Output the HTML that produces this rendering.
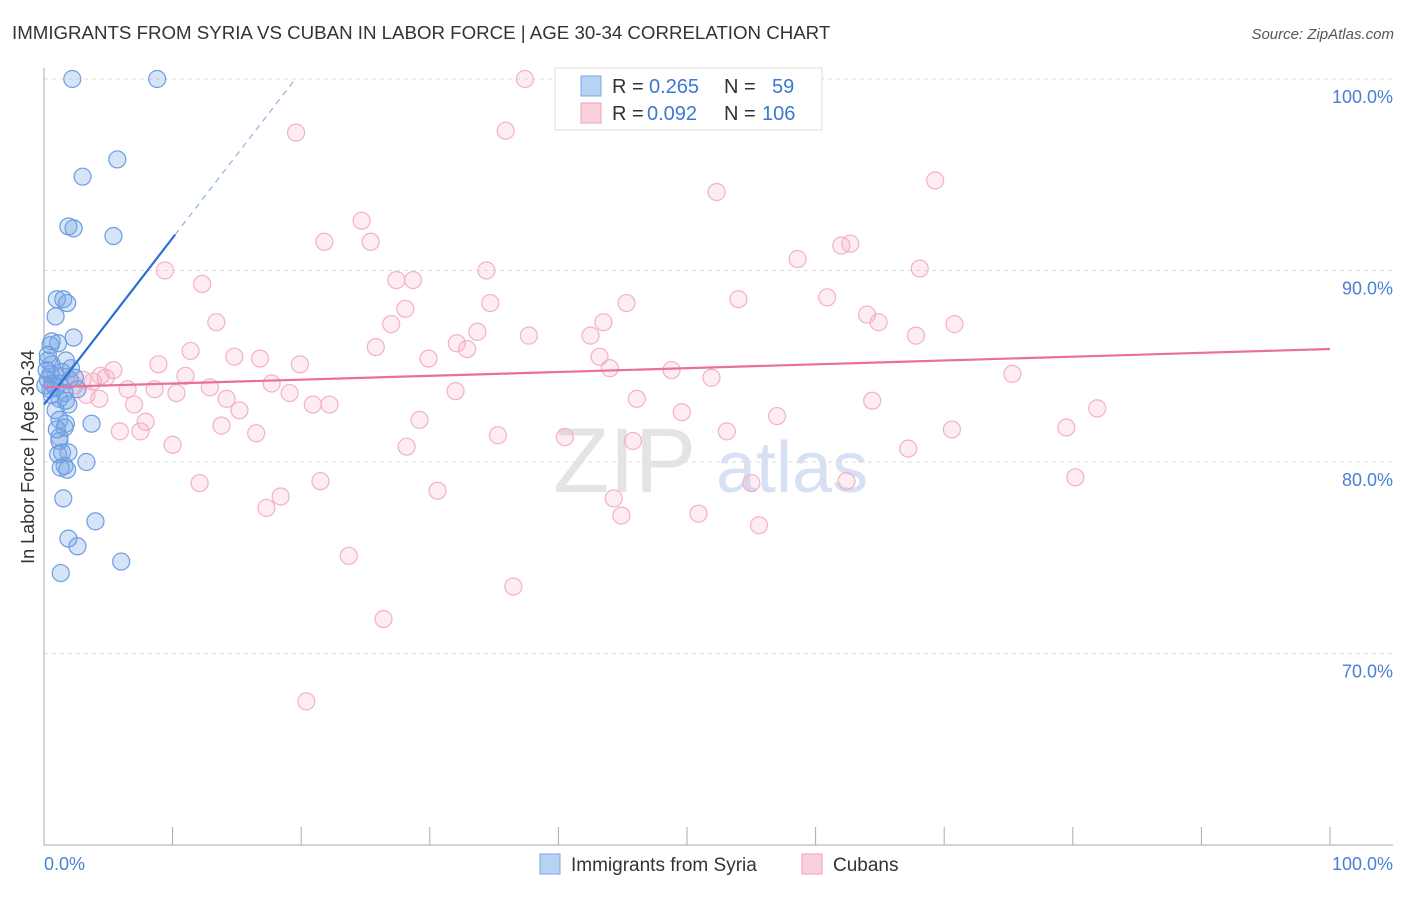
<!DOCTYPE html>
<html><head><meta charset="utf-8"><style>
body{margin:0;background:#fff;font-family:"Liberation Sans",sans-serif;}
svg text{font-family:"Liberation Sans",sans-serif;}
</style></head><body>
<svg id="chart" width="1406" height="892">
<text x="12" y="39" font-size="18.7" fill="#333">IMMIGRANTS FROM SYRIA VS CUBAN IN LABOR FORCE | AGE 30-34 CORRELATION CHART</text>
<text x="1394" y="39" font-size="15" fill="#555" font-style="italic" text-anchor="end">Source: ZipAtlas.com</text>
<text transform="translate(34,457) rotate(-90)" font-size="18" fill="#333" text-anchor="middle">In Labor Force | Age 30-34</text>
<text x="553" y="492" font-size="92" fill="#e4e4e4" font-family="Liberation Serif">ZIP</text>
<text x="716" y="492" font-size="72" fill="#d6e2f3">atlas</text>
<g id="grid"></g><g id="axes"></g><g id="pink"></g><g id="blue"></g><g id="lines"></g>
<g>
<rect x="555" y="68" width="267" height="62" fill="#fff" stroke="#ddd"/>
<rect x="581" y="76" width="20" height="20" fill="#b8d2f4" stroke="#7aa6e6"/>
<rect x="581" y="103" width="20" height="20" fill="#fbd0dd" stroke="#f0a0bb"/>
<text x="612" y="93" font-size="20" fill="#333">R =</text>
<text x="649" y="93" font-size="20" fill="#3b78d4">0.265</text>
<text x="724" y="93" font-size="20" fill="#333">N =</text>
<text x="772" y="93" font-size="20" fill="#3b78d4">59</text>
<text x="612" y="120" font-size="20" fill="#333">R =</text>
<text x="647" y="120" font-size="20" fill="#3b78d4">0.092</text>
<text x="724" y="120" font-size="20" fill="#333">N =</text>
<text x="762" y="120" font-size="20" fill="#3b78d4">106</text>
</g>
<g>
<rect x="540" y="854" width="20" height="20" fill="#b8d2f4" stroke="#7aa6e6"/>
<text x="571" y="871" font-size="19" fill="#333">Immigrants from Syria</text>
<rect x="802" y="854" width="20" height="20" fill="#fbd0dd" stroke="#f0a0bb"/>
<text x="833" y="871" font-size="19" fill="#333">Cubans</text>
</g>
<text x="44" y="870" font-size="18" fill="#4a7fd4">0.0%</text>
<text x="1393" y="870" font-size="18" fill="#4a7fd4" text-anchor="end">100.0%</text>
</svg>
<script>
const yTicks=[100,90,80,70];
const yTickLabels=["100.0%","90.0%","80.0%","70.0%"];
const xTicks=[0,10,20,30,40,50,60,70,80,90,100];
const blueX=[2.2,8.8,5.7,3.0,1.9,2.3,5.4,1.0,1.5,1.8,0.9,2.3,0.6,1.1,0.5,0.3,1.7,0.6,2.1,0.5,0.9,0.3,0.7,1.2,2.6,0.5,1.6,1.2,1.9,0.9,1.2,1.7,3.7,1.6,1.2,1.2,1.1,1.9,3.3,1.6,1.3,1.8,1.5,4.0,1.9,2.6,6.0,1.3,0.2,0.6,2.0,1.4,0.9,0.1,1.7,0.3,2.4,1.0,1.4];
const blueY=[100,100,95.8,94.9,92.3,92.2,91.8,88.5,88.5,88.3,87.6,86.5,86.3,86.2,86.1,85.3,85.3,85.1,84.9,84.6,84.5,84.3,84.1,84.1,83.8,83.8,83.6,83.3,83.0,82.7,82.2,82.0,82.0,81.8,81.3,81.1,80.4,80.5,80.0,79.8,79.7,79.6,78.1,76.9,76.0,75.6,74.8,74.2,84.8,83.5,84.3,84.7,83.9,84.0,83.2,85.6,84.4,81.7,80.5];
const pinkX=[37.4,19.6,35.9,52.3,69.3,24.7,21.8,25.4,62.0,62.7,9.4,34.4,58.6,68.1,12.3,27.4,28.7,34.7,45.3,54.0,60.9,28.1,13.4,27.0,43.5,64.0,64.9,70.8,33.7,37.7,42.5,67.8,11.4,25.8,32.1,32.9,14.8,16.8,19.9,29.9,43.2,8.9,44.0,5.4,11.0,17.7,48.8,51.9,75.3,4.8,3.0,3.8,6.5,8.6,10.3,12.9,19.1,32.0,4.3,14.2,7.0,46.1,64.4,20.9,22.2,15.2,49.6,57.0,7.9,29.2,81.9,13.8,5.9,7.5,16.5,35.3,40.5,53.1,70.6,79.5,10.0,28.2,45.8,67.2,12.1,21.5,30.6,44.3,55.0,62.4,80.2,18.4,17.3,44.9,50.9,55.6,23.7,36.5,26.4,20.4,2.4,3.3,1.7,4.4];
const pinkY=[100,97.2,97.3,94.1,94.7,92.6,91.5,91.5,91.3,91.4,90.0,90.0,90.6,90.1,89.3,89.5,89.5,88.3,88.3,88.5,88.6,88.0,87.3,87.2,87.3,87.7,87.3,87.2,86.8,86.6,86.6,86.6,85.8,86.0,86.2,85.9,85.5,85.4,85.1,85.4,85.5,85.1,84.9,84.8,84.5,84.1,84.8,84.4,84.6,84.4,84.3,84.2,83.8,83.8,83.6,83.9,83.6,83.7,83.3,83.3,83.0,83.3,83.2,83.0,83.0,82.7,82.6,82.4,82.1,82.2,82.8,81.9,81.6,81.6,81.5,81.4,81.3,81.6,81.7,81.8,80.9,80.8,81.1,80.7,78.9,79.0,78.5,78.1,78.9,79.0,79.2,78.2,77.6,77.2,77.3,76.7,75.1,73.5,71.8,67.5,84.0,83.5,84.4,84.5];
const blueTrend=[83.0,0.87];  // intercept, slope per %
const pinkTrend=[83.9,85.9];  // y at 0%, y at 100%
const NS="http://www.w3.org/2000/svg";
const sx=v=>44+v*12.86, sy=v=>79+(100-v)*19.15;
function mk(p,t,a){const e=document.createElementNS(NS,t);for(const k in a)e.setAttribute(k,a[k]);document.getElementById(p).appendChild(e);return e;}
yTicks.forEach((t,i)=>{
 let l=mk('grid','line',{x1:44,x2:1393,y1:sy(t),y2:sy(t),stroke:'#ddd','stroke-dasharray':'4,4'});
 
 
 let tx=mk('grid','text',{x:1393,y:sy(t)+24,'text-anchor':'end','font-size':18,fill:'#4a7fd4'});tx.textContent=yTickLabels[i];
 
 
});
let ax=mk('axes','line',{x1:44,x2:44,y1:68,y2:845,stroke:'#aaa'});


let bx=mk('axes','line',{x1:44,x2:1393,y1:845,y2:845,stroke:'#aaa'});


xTicks.forEach(t=>{let l=mk('axes','line',{x1:sx(t),x2:sx(t),y1:827,y2:845,stroke:'#aaa'});
 
 });
pinkX.forEach((x,i)=>{let c=mk('pink','circle',{cx:sx(x),cy:sy(pinkY[i]),r:8.5,fill:'rgba(244,160,190,0.2)',stroke:'#f4b0c7','stroke-width':1.2});
 
 });
blueX.forEach((x,i)=>{let c=mk('blue','circle',{cx:sx(x),cy:sy(blueY[i]),r:8.5,fill:'rgba(120,165,230,0.3)',stroke:'#6c9de2','stroke-width':1.2});
 
 });
const bEnd=10.2, bDash=(100-blueTrend[0])/blueTrend[1];
let bl=mk('lines','line',{x1:sx(0),y1:sy(blueTrend[0]),x2:sx(bEnd),y2:sy(blueTrend[0]+blueTrend[1]*bEnd),stroke:'#2a6fd6','stroke-width':2.2});


let bd=mk('lines','line',{x1:sx(bEnd),y1:sy(blueTrend[0]+blueTrend[1]*bEnd),x2:sx(bDash),y2:sy(100),stroke:'#8fb3e8','stroke-width':1.2,'stroke-dasharray':'6,5'});


let pl=mk('lines','line',{x1:sx(0),y1:sy(pinkTrend[0]),x2:sx(100),y2:sy(pinkTrend[1]),stroke:'#e8709a','stroke-width':2.2});


</script>
</body></html>
